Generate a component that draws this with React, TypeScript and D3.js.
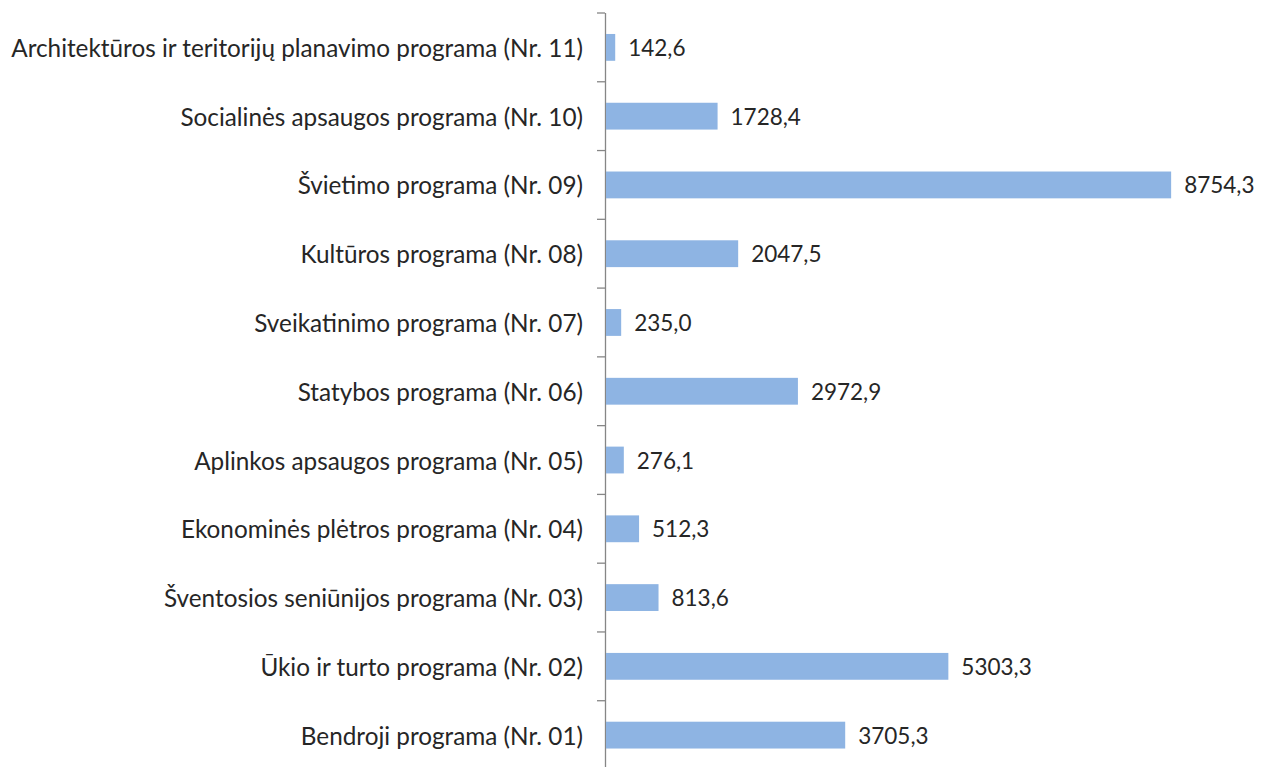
import React from "react";
import * as d3 from "d3";

const categories = [
  "Architektūros ir teritorijų planavimo programa (Nr. 11)",
  "Socialinės apsaugos programa (Nr. 10)",
  "Švietimo programa (Nr. 09)",
  "Kultūros programa (Nr. 08)",
  "Sveikatinimo programa (Nr. 07)",
  "Statybos programa (Nr. 06)",
  "Aplinkos apsaugos programa (Nr. 05)",
  "Ekonominės plėtros programa (Nr. 04)",
  "Šventosios seniūnijos programa (Nr. 03)",
  "Ūkio ir turto programa (Nr. 02)",
  "Bendroji programa (Nr. 01)",
];
const values = [142.6, 1728.4, 8754.3, 2047.5, 235.0, 2972.9, 276.1, 512.3, 813.6, 5303.3, 3705.3];

const W = 1261;
const H = 767;
const FONT = "Lato, 'Open Sans', sans-serif";

export default function App() {
  const x = d3.scaleLinear().domain([0, 9000]).range([605, 1186]);
  const y = d3
    .scaleBand<string>()
    .domain(categories)
    .range([13, 769.5])
    .paddingInner(0.61)
    .paddingOuter(0.305);
  const step = y.step();
  const r0 = 13;
  const fmt = (v: number) => v.toFixed(1).replace(".", ",");
  return (
    <svg
      width={W}
      height={H}
      style={{ position: "absolute", left: 0, top: 0, background: "#fff" }}
    >
      <line x1={605.5} x2={605.5} y1={13} y2={H} stroke="#868686" strokeWidth={1.3} />
      {d3.range(categories.length).map((i) => (
        <line
          key={"t" + i}
          x1={597}
          x2={605}
          y1={r0 + i * step}
          y2={r0 + i * step}
          stroke="#868686"
          strokeWidth={1.3}
        />
      ))}
      {categories.map((c, i) => {
        const yy = y(c)!;
        const bw = y.bandwidth();
        return (
          <g key={c}>
            <rect x={x(0) + 1} y={yy} width={x(values[i]) - x(0)} height={bw} fill="#8EB4E3" />
            <text
              x={583}
              y={yy + bw / 2}
              textAnchor="end"
              dominantBaseline="central"
              fontFamily={FONT}
              fontSize={24.3}
              fill="#262626"
            >
              {c}
            </text>
            <text
              x={x(values[i]) + 14}
              y={yy + bw / 2}
              dominantBaseline="central"
              fontFamily={FONT}
              fontSize={22.5}
              fill="#262626"
            >
              {fmt(values[i])}
            </text>
          </g>
        );
      })}
    </svg>
  );
}
